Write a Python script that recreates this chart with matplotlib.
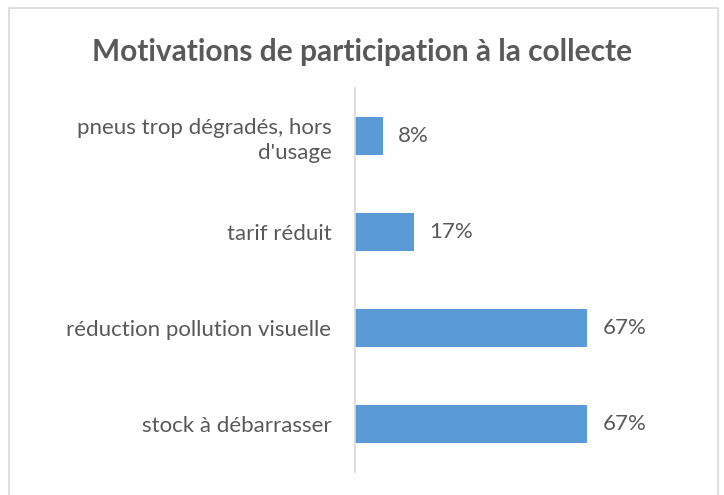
import matplotlib.pyplot as plt
from matplotlib.patches import Rectangle

# Data (bottom to top as drawn)
categories = ["stock à débarrasser", "réduction pollution visuelle", "tarif réduit",
              "pneus trop dégradés, hors\nd'usage"]
values = [0.67, 0.67, 0.17, 0.08]
title = "Motivations de participation à la collecte"

text_color = "#595959"
bar_color = "#5B9BD5"

plt.rcParams['font.family'] = ['Lato', 'DejaVu Sans']

fig = plt.figure(figsize=(7.24, 4.95), dpi=100)
ax = fig.add_axes([355 / 724, 23 / 495, 277 / 724, 384 / 495])

ypos = list(range(len(categories)))
ax.barh(ypos, values, height=0.4, color=bar_color)
ax.set_xlim(0, 0.8)
ax.set_ylim(-0.5, len(categories) - 0.5)

for y, v in zip(ypos, values):
    ax.text(v + 0.045, y, f"{round(v * 100)}%", va="center", ha="left",
            fontsize=16, color=text_color)

ax.set_yticks(ypos)
ax.set_yticklabels(categories, fontsize=16, color=text_color, linespacing=1.3)
ax.tick_params(axis="y", length=0, pad=17)
ax.set_xticks([])
for side in ["top", "right", "bottom"]:
    ax.spines[side].set_visible(False)
ax.spines["left"].set_color("#D9D9D9")
ax.spines["left"].set_linewidth(1.2)

fig.text(0.5, 1 - 52 / 495, title, ha="center", va="center", fontsize=21.5,
         fontweight="bold", color=text_color)

# chart area border
fig.patches.append(Rectangle((9 / 724, -0.05), 709 / 724, 1.05 - 8 / 495,
                             transform=fig.transFigure, fill=False,
                             edgecolor="#D9D9D9", linewidth=1.2))

fig.savefig("out.png", dpi=100)
